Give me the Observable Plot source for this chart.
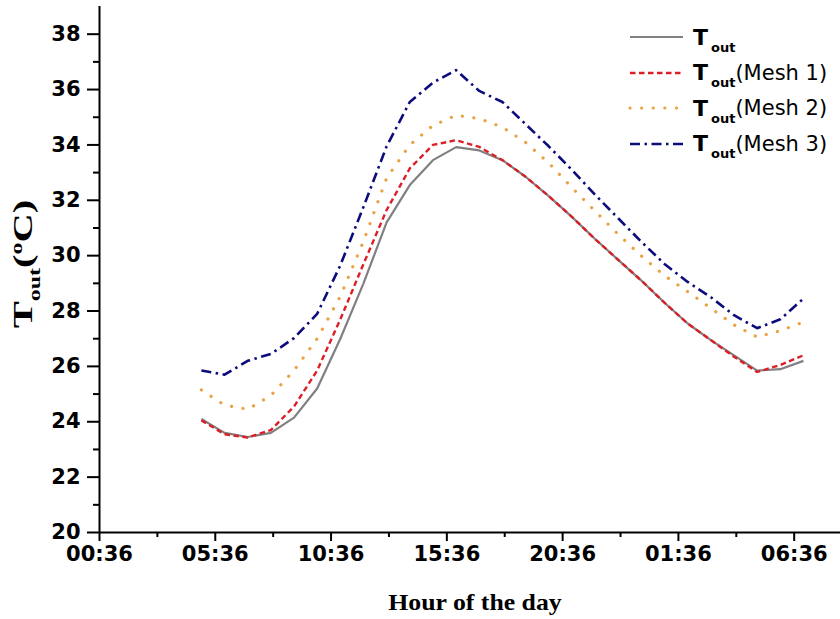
<!DOCTYPE html>
<html>
<head>
<meta charset="utf-8">
<script src="https://cdn.jsdelivr.net/npm/d3@7"></script>
<script src="https://cdn.jsdelivr.net/npm/@observablehq/plot@0.6"></script>
<style>
  html, body { margin: 0; padding: 0; background: #fff; }
  #wrap { position: relative; width: 840px; height: 619px; overflow: hidden; }
  .lg { position: absolute; left: 628px; height: 28px; display: flex; align-items: center; font-family: "DejaVu Sans", sans-serif; font-size: 21px; color: #000; white-space: nowrap; }
  .lg svg { margin-right: 9px; }
  .lg b { font-weight: bold; font-size: 22px; }
  .lg .sb { font-weight: bold; font-size: 13px; position: relative; top: 10px; margin-left: 3px; }
  #ylab { position: absolute; left: 23px; top: 264px; transform: translate(-50%, -50%) rotate(-90deg) scaleX(1.5); font-family: "Liberation Serif", serif; font-weight: bold; font-size: 27px; white-space: nowrap; }
  #ylab .sb { font-size: 16px; position: relative; top: 8px; }
  #ylab .sp { font-size: 16px; position: relative; top: -10px; }
  #xlab { position: absolute; left: 475px; top: 603px; transform: translate(-50%, -50%) scaleX(1.12); font-family: "Liberation Serif", serif; font-weight: bold; font-size: 23px; white-space: nowrap; }
</style>
</head>
<body>
<div id="wrap"></div>
<script>
// Measurement times (hourly, 05:00 day 1 to 07:00 day 2)
const times = ["05:00","06:00","07:00","08:00","09:00","10:00","11:00","12:00","13:00","14:00","15:00","16:00","17:00","18:00","19:00","20:00","21:00","22:00","23:00","00:00","01:00","02:00","03:00","04:00","05:00","06:00","07:00"];
const tOut  = [24.1, 23.6, 23.45, 23.6, 24.15, 25.2, 27.0, 29.0, 31.2, 32.55, 33.45, 33.92, 33.8, 33.45, 32.85, 32.15, 31.4, 30.6, 29.85, 29.1, 28.3, 27.55, 26.95, 26.4, 25.85, 25.9, 26.2];
const mesh1 = [24.05, 23.55, 23.43, 23.7, 24.55, 25.85, 27.7, 29.7, 31.65, 33.15, 34.0, 34.17, 33.93, 33.45, 32.85, 32.15, 31.4, 30.6, 29.85, 29.1, 28.3, 27.55, 26.95, 26.35, 25.8, 26.05, 26.4];
const mesh2 = [25.15, 24.6, 24.45, 24.95, 25.85, 27.0, 28.53, 30.52, 32.8, 34.0, 34.7, 35.07, 34.95, 34.64, 34.09, 33.35, 32.46, 31.61, 30.77, 29.99, 29.28, 28.7, 28.1, 27.5, 27.06, 27.29, 27.6];
const mesh3 = [25.85, 25.7, 26.2, 26.45, 27.02, 27.9, 29.65, 31.76, 33.95, 35.55, 36.25, 36.7, 35.95, 35.55, 34.75, 33.95, 33.1, 32.2, 31.35, 30.5, 29.7, 29.05, 28.5, 27.85, 27.38, 27.7, 28.45];

// Axis ticks (hours elapsed since 00:36)
const xTicks = [0, 5, 10, 15, 20, 25, 30];
const xTickLabels = ["00:36","05:36","10:36","15:36","20:36","01:36","06:36"];
const xMinor = [2.5, 7.5, 12.5, 17.5, 22.5, 27.5];
const yTicks = [20, 22, 24, 26, 28, 30, 32, 34, 36, 38];
const yMinor = [21, 23, 25, 27, 29, 31, 33, 35, 37];

// hours elapsed since 00:36 on day 1
let day = 0, prev = -1;
const hours = times.map(t => {
  const [hh, mm] = t.split(":").map(Number);
  const v = hh + mm / 60;
  if (v < prev) day += 1;
  prev = v;
  return v + 24 * day - 0.6;
});

const series = [
  {key: "tOut", values: tOut, stroke: "#808080", dash: null, width: 2.2, cap: "butt"},
  {key: "mesh1", values: mesh1, stroke: "#dc1f26", dash: "5.5,3.5", width: 2.4, cap: "butt"},
  {key: "mesh2", values: mesh2, stroke: "#eba245", dash: "0.1,11.5", width: 3.2, cap: "round"},
  {key: "mesh3", values: mesh3, stroke: "#0c0c7c", dash: "10,4.5,2.5,4.5", width: 2.6, cap: "butt"}
];

const lineMarks = series.map(s => Plot.line(
  hours.map((h, i) => ({h, v: s.values[i]})),
  {x: "h", y: "v", stroke: s.stroke, strokeWidth: s.width, strokeDasharray: s.dash, strokeLinecap: s.cap, strokeLinejoin: "round"}
));

const chart = Plot.plot({
  width: 840,
  height: 619,
  marginLeft: 99,
  marginRight: 0,
  marginTop: 6,
  marginBottom: 87,
  x: {domain: [0, 32]},
  y: {domain: [20, 39]},
  style: {fontFamily: "DejaVu Sans, sans-serif", fontSize: "21px", fontWeight: "bold", color: "#000", background: "#fff", overflow: "visible"},
  marks: [
    Plot.axisY({ticks: yTicks, tickSize: 12, tickPadding: 7, tickFormat: d => String(d), label: null, strokeWidth: 2, fontSize: 21, fontWeight: "bold"}),
    Plot.axisY({ticks: yMinor, tickSize: 6, tickFormat: () => "", label: null, strokeWidth: 2}),
    Plot.axisX({ticks: xTicks, tickSize: 9, tickPadding: 5, tickFormat: d => xTickLabels[xTicks.indexOf(d)], label: null, strokeWidth: 2, fontSize: 21, fontWeight: "bold"}),
    Plot.axisX({ticks: xMinor, tickSize: 5, tickFormat: () => "", label: null, strokeWidth: 2}),
    ...lineMarks,
    Plot.ruleX([0], {stroke: "#000", strokeWidth: 2}),
    Plot.ruleY([20], {stroke: "#000", strokeWidth: 2})
  ]
});

const wrap = document.getElementById("wrap");
wrap.appendChild(chart);

// Legend
const legendLabels = ["", "(Mesh 1)", "(Mesh 2)", "(Mesh 3)"];
const legendCenters = [37, 72.5, 108, 143.5];
series.forEach((s, i) => {
  const row = document.createElement("div");
  row.className = "lg";
  row.style.top = (legendCenters[i] - 14) + "px";
  const dash = s.dash ? `stroke-dasharray="${s.dash}"` : "";
  row.innerHTML = `<svg width="56" height="28"><line x1="2" y1="14" x2="55" y2="14" stroke="${s.stroke}" stroke-width="${s.width}" ${dash} stroke-linecap="${s.cap}"/></svg><b>T</b><span class="sb">out</span><span>${legendLabels[i]}</span>`;
  wrap.appendChild(row);
});

const ylab = document.createElement("div");
ylab.id = "ylab";
ylab.innerHTML = `T<span class="sb">out</span>(<span class="sp">o</span>C)`;
wrap.appendChild(ylab);

const xlab = document.createElement("div");
xlab.id = "xlab";
xlab.textContent = "Hour of the day";
wrap.appendChild(xlab);
</script>
</body>
</html>
